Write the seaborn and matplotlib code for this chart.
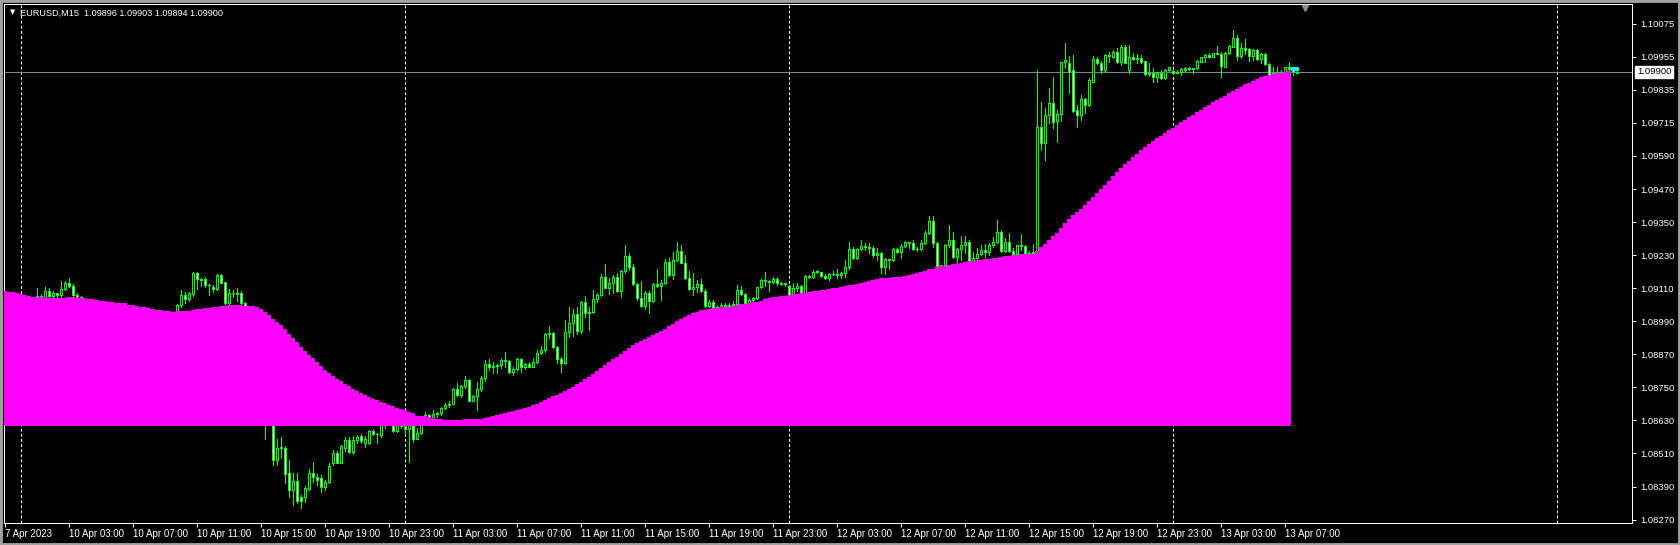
import numpy as np
import pandas as pd
import seaborn as sns
import matplotlib.pyplot as plt
import matplotlib.transforms as mtransforms
from matplotlib.patches import Rectangle

# EURUSD M15 candles, bar 0 = 7 Apr 23:00
opens = [
    1.09090, 1.09085, 1.09090, 1.09078, 1.09084, 1.09070, 1.09078, 1.09066, 1.09072, 1.09085,
    1.09080, 1.09101, 1.09085, 1.09094, 1.09086, 1.09108, 1.09130, 1.09122, 1.09089, 1.09079,
    1.09072, 1.09060, 1.09064, 1.09055, 1.09058, 1.09048, 1.09055, 1.09042, 1.09050, 1.09036,
    1.09045, 1.09032, 1.09040, 1.09028, 1.09035, 1.09022, 1.09030, 1.09018, 1.09025, 1.09012,
    1.09020, 1.09008, 1.09015, 1.09010, 1.09051, 1.09088, 1.09072, 1.09090, 1.09166, 1.09145,
    1.09145, 1.09124, 1.09118, 1.09111, 1.09160, 1.09134, 1.09057, 1.09096, 1.09094, 1.09094,
    1.09060, 1.09033, 1.09020, 1.09012, 1.08995, 1.08940, 1.08700, 1.08680, 1.08487, 1.08530,
    1.08530, 1.08438, 1.08378, 1.08411, 1.08351, 1.08351, 1.08381, 1.08438, 1.08424, 1.08420,
    1.08390, 1.08408, 1.08477, 1.08511, 1.08477, 1.08530, 1.08560, 1.08517, 1.08560, 1.08574,
    1.08548, 1.08548, 1.08593, 1.08580, 1.08578, 1.08618, 1.08630, 1.08640, 1.08594, 1.08620,
    1.08610, 1.08600, 1.08615, 1.08562, 1.08586, 1.08639, 1.08651, 1.08641, 1.08654, 1.08657,
    1.08677, 1.08687, 1.08691, 1.08744, 1.08724, 1.08756, 1.08778, 1.08703, 1.08720, 1.08744,
    1.08784, 1.08836, 1.08827, 1.08829, 1.08832, 1.08851, 1.08849, 1.08809, 1.08817, 1.08855,
    1.08827, 1.08836, 1.08827, 1.08842, 1.08875, 1.08887, 1.08946, 1.08948, 1.08897, 1.08853,
    1.08841, 1.08952, 1.08984, 1.09018, 1.08958, 1.09063, 1.09021, 1.09024, 1.09073, 1.09086,
    1.09152, 1.09114, 1.09130, 1.09153, 1.09103, 1.09176, 1.09230, 1.09188, 1.09126, 1.09075,
    1.09049, 1.09094, 1.09067, 1.09128, 1.09120, 1.09130, 1.09209, 1.09160, 1.09215, 1.09248,
    1.09205, 1.09148, 1.09111, 1.09115, 1.09128, 1.09103, 1.09049, 1.09062, 1.09039, 1.09045,
    1.09051, 1.09048, 1.09051, 1.09055, 1.09106, 1.09091, 1.09057, 1.09069, 1.09075, 1.09115,
    1.09142, 1.09140, 1.09136, 1.09145, 1.09130, 1.09128, 1.09122, 1.09088, 1.09112, 1.09122,
    1.09094, 1.09157, 1.09154, 1.09171, 1.09170, 1.09158, 1.09150, 1.09164, 1.09163, 1.09162,
    1.09166, 1.09188, 1.09254, 1.09221, 1.09255, 1.09267, 1.09264, 1.09258, 1.09233, 1.09242,
    1.09191, 1.09217, 1.09215, 1.09254, 1.09243, 1.09266, 1.09279, 1.09277, 1.09255, 1.09256,
    1.09276, 1.09314, 1.09357, 1.09278, 1.09194, 1.09196, 1.09270, 1.09288, 1.09225, 1.09254,
    1.09268, 1.09282, 1.09213, 1.09223, 1.09238, 1.09250, 1.09244, 1.09268, 1.09280, 1.09316,
    1.09249, 1.09279, 1.09249, 1.09236, 1.09268, 1.09267, 1.09239, 1.09241, 1.09245, 1.09700,
    1.09640, 1.09743, 1.09785, 1.09722, 1.09746, 1.09937, 1.09931, 1.09907, 1.09761, 1.09743,
    1.09800, 1.09779, 1.09864, 1.09945, 1.09931, 1.09907, 1.09961, 1.09953, 1.09971, 1.09937,
    1.09992, 1.09907, 1.09955, 1.09945, 1.09949, 1.09939, 1.09891, 1.09895, 1.09882, 1.09895,
    1.09876, 1.09907, 1.09904, 1.09895, 1.09901, 1.09907, 1.09913, 1.09911, 1.09913, 1.09937,
    1.09953, 1.09961, 1.09955, 1.09967, 1.09965, 1.09919, 1.09967, 1.09992, 1.10022, 1.09959,
    1.09986, 1.09983, 1.09959, 1.09979, 1.09947, 1.09965, 1.09929, 1.09888, 1.09895, 1.09898,
    1.09898, 1.09916, 1.09905, 1.09896,
]
highs = [
    1.09098, 1.09095, 1.09094, 1.09088, 1.09088, 1.09082, 1.09080, 1.09075, 1.09112, 1.09092,
    1.09115, 1.09112, 1.09103, 1.09096, 1.09139, 1.09139, 1.09149, 1.09128, 1.09096, 1.09085,
    1.09074, 1.09068, 1.09070, 1.09062, 1.09062, 1.09060, 1.09058, 1.09055, 1.09055, 1.09050,
    1.09052, 1.09045, 1.09046, 1.09040, 1.09040, 1.09035, 1.09036, 1.09030, 1.09030, 1.09026,
    1.09025, 1.09020, 1.09022, 1.09054, 1.09106, 1.09100, 1.09100, 1.09173, 1.09170, 1.09148,
    1.09152, 1.09126, 1.09124, 1.09164, 1.09164, 1.09136, 1.09108, 1.09106, 1.09112, 1.09103,
    1.09063, 1.09042, 1.09035, 1.09025, 1.09000, 1.08955, 1.08760, 1.08690, 1.08562, 1.08572,
    1.08538, 1.08487, 1.08438, 1.08441, 1.08360, 1.08392, 1.08453, 1.08479, 1.08435, 1.08432,
    1.08414, 1.08475, 1.08523, 1.08521, 1.08540, 1.08570, 1.08572, 1.08574, 1.08578, 1.08582,
    1.08574, 1.08596, 1.08599, 1.08584, 1.08620, 1.08640, 1.08650, 1.08650, 1.08630, 1.08640,
    1.08630, 1.08640, 1.08625, 1.08602, 1.08640, 1.08663, 1.08654, 1.08669, 1.08663, 1.08681,
    1.08696, 1.08702, 1.08748, 1.08768, 1.08759, 1.08793, 1.08781, 1.08724, 1.08771, 1.08794,
    1.08851, 1.08853, 1.08845, 1.08835, 1.08857, 1.08881, 1.08851, 1.08827, 1.08859, 1.08857,
    1.08841, 1.08845, 1.08859, 1.08887, 1.08902, 1.08950, 1.08975, 1.08954, 1.08902, 1.08863,
    1.08997, 1.09043, 1.09037, 1.09045, 1.09067, 1.09084, 1.09045, 1.09106, 1.09094, 1.09164,
    1.09200, 1.09148, 1.09160, 1.09169, 1.09179, 1.09270, 1.09242, 1.09200, 1.09132, 1.09139,
    1.09103, 1.09102, 1.09130, 1.09181, 1.09142, 1.09217, 1.09223, 1.09245, 1.09279, 1.09270,
    1.09233, 1.09175, 1.09166, 1.09142, 1.09146, 1.09108, 1.09069, 1.09069, 1.09051, 1.09057,
    1.09058, 1.09058, 1.09066, 1.09124, 1.09120, 1.09094, 1.09075, 1.09082, 1.09118, 1.09147,
    1.09170, 1.09142, 1.09154, 1.09152, 1.09136, 1.09132, 1.09125, 1.09130, 1.09130, 1.09124,
    1.09160, 1.09162, 1.09179, 1.09179, 1.09173, 1.09164, 1.09166, 1.09175, 1.09181, 1.09171,
    1.09215, 1.09282, 1.09264, 1.09258, 1.09288, 1.09276, 1.09276, 1.09266, 1.09258, 1.09245,
    1.09221, 1.09219, 1.09258, 1.09258, 1.09272, 1.09284, 1.09282, 1.09288, 1.09264, 1.09288,
    1.09322, 1.09375, 1.09375, 1.09282, 1.09197, 1.09272, 1.09342, 1.09316, 1.09258, 1.09302,
    1.09302, 1.09288, 1.09243, 1.09260, 1.09270, 1.09272, 1.09276, 1.09300, 1.09361, 1.09324,
    1.09294, 1.09314, 1.09258, 1.09268, 1.09310, 1.09268, 1.09249, 1.09273, 1.09905, 1.09791,
    1.09767, 1.09840, 1.09882, 1.09761, 1.09937, 1.10004, 1.09958, 1.09961, 1.09779, 1.09816,
    1.09804, 1.09876, 1.09958, 1.09955, 1.09940, 1.09965, 1.09973, 1.09979, 1.09986, 1.09998,
    1.09998, 1.09998, 1.09967, 1.09965, 1.09961, 1.09939, 1.09931, 1.09915, 1.09898, 1.09907,
    1.09910, 1.09919, 1.09910, 1.09907, 1.09913, 1.09917, 1.09919, 1.09913, 1.09943, 1.09955,
    1.09964, 1.09967, 1.09970, 1.09994, 1.09973, 1.09973, 1.09998, 1.10052, 1.10034, 1.10004,
    1.10019, 1.09986, 1.09983, 1.09982, 1.09970, 1.09967, 1.09931, 1.09916, 1.09916, 1.09905,
    1.09916, 1.09937, 1.09913, 1.09903,
]
lows = [
    1.09080, 1.09075, 1.09072, 1.09070, 1.09065, 1.09062, 1.09060, 1.09058, 1.09060, 1.09070,
    1.09075, 1.09078, 1.09075, 1.09076, 1.09075, 1.09105, 1.09118, 1.09085, 1.09070, 1.09065,
    1.09055, 1.09050, 1.09052, 1.09045, 1.09040, 1.09042, 1.09038, 1.09035, 1.09030, 1.09030,
    1.09028, 1.09025, 1.09022, 1.09020, 1.09015, 1.09012, 1.09010, 1.09008, 1.09005, 1.09002,
    1.09000, 1.08998, 1.09000, 1.09005, 1.09045, 1.09060, 1.09065, 1.09085, 1.09108, 1.09120,
    1.09115, 1.09086, 1.09097, 1.09105, 1.09130, 1.09055, 1.09050, 1.09081, 1.09065, 1.09055,
    1.09030, 1.09015, 1.09005, 1.08990, 1.08930, 1.08563, 1.08640, 1.08469, 1.08469, 1.08493,
    1.08402, 1.08354, 1.08323, 1.08329, 1.08311, 1.08335, 1.08378, 1.08408, 1.08396, 1.08372,
    1.08378, 1.08402, 1.08469, 1.08475, 1.08475, 1.08521, 1.08511, 1.08509, 1.08550, 1.08548,
    1.08536, 1.08545, 1.08578, 1.08548, 1.08572, 1.08602, 1.08615, 1.08590, 1.08590, 1.08605,
    1.08580, 1.08481, 1.08554, 1.08562, 1.08580, 1.08633, 1.08639, 1.08639, 1.08645, 1.08651,
    1.08673, 1.08681, 1.08690, 1.08721, 1.08717, 1.08750, 1.08701, 1.08700, 1.08669, 1.08739,
    1.08776, 1.08815, 1.08802, 1.08802, 1.08821, 1.08827, 1.08802, 1.08796, 1.08815, 1.08809,
    1.08817, 1.08824, 1.08824, 1.08839, 1.08873, 1.08881, 1.08930, 1.08893, 1.08841, 1.08809,
    1.08836, 1.08936, 1.08938, 1.08946, 1.08950, 1.09009, 1.08960, 1.09021, 1.09063, 1.09084,
    1.09112, 1.09091, 1.09094, 1.09100, 1.09082, 1.09166, 1.09179, 1.09124, 1.09069, 1.09045,
    1.09035, 1.09023, 1.09063, 1.09115, 1.09069, 1.09128, 1.09157, 1.09146, 1.09213, 1.09203,
    1.09145, 1.09106, 1.09088, 1.09100, 1.09097, 1.09045, 1.09045, 1.09036, 1.09033, 1.09033,
    1.09040, 1.09042, 1.09045, 1.09051, 1.09088, 1.09055, 1.09055, 1.09055, 1.09072, 1.09112,
    1.09120, 1.09103, 1.09130, 1.09124, 1.09125, 1.09122, 1.09088, 1.09086, 1.09103, 1.09091,
    1.09092, 1.09151, 1.09148, 1.09166, 1.09154, 1.09145, 1.09142, 1.09160, 1.09148, 1.09151,
    1.09152, 1.09184, 1.09217, 1.09219, 1.09251, 1.09251, 1.09239, 1.09227, 1.09215, 1.09169,
    1.09164, 1.09184, 1.09213, 1.09239, 1.09223, 1.09261, 1.09258, 1.09251, 1.09249, 1.09251,
    1.09273, 1.09310, 1.09264, 1.09193, 1.09191, 1.09193, 1.09264, 1.09221, 1.09203, 1.09215,
    1.09239, 1.09209, 1.09209, 1.09215, 1.09233, 1.09227, 1.09233, 1.09264, 1.09276, 1.09245,
    1.09245, 1.09245, 1.09233, 1.09233, 1.09251, 1.09233, 1.09236, 1.09236, 1.09235, 1.09615,
    1.09579, 1.09713, 1.09694, 1.09646, 1.09722, 1.09913, 1.09822, 1.09755, 1.09700, 1.09725,
    1.09749, 1.09776, 1.09862, 1.09927, 1.09895, 1.09904, 1.09937, 1.09949, 1.09931, 1.09925,
    1.09931, 1.09895, 1.09943, 1.09931, 1.09931, 1.09888, 1.09886, 1.09864, 1.09864, 1.09874,
    1.09873, 1.09904, 1.09895, 1.09895, 1.09887, 1.09904, 1.09907, 1.09895, 1.09911, 1.09935,
    1.09935, 1.09949, 1.09953, 1.09965, 1.09882, 1.09919, 1.09965, 1.09992, 1.09943, 1.09949,
    1.09965, 1.09941, 1.09943, 1.09943, 1.09931, 1.09925, 1.09888, 1.09880, 1.09888, 1.09890,
    1.09895, 1.09907, 1.09888, 1.09894,
]
closes = [
    1.09085, 1.09090, 1.09078, 1.09084, 1.09070, 1.09078, 1.09066, 1.09072, 1.09085, 1.09080,
    1.09101, 1.09085, 1.09094, 1.09086, 1.09108, 1.09130, 1.09122, 1.09089, 1.09079, 1.09072,
    1.09060, 1.09064, 1.09055, 1.09058, 1.09048, 1.09055, 1.09042, 1.09050, 1.09036, 1.09045,
    1.09032, 1.09040, 1.09028, 1.09035, 1.09022, 1.09030, 1.09018, 1.09025, 1.09012, 1.09020,
    1.09008, 1.09015, 1.09010, 1.09051, 1.09088, 1.09072, 1.09094, 1.09169, 1.09145, 1.09143,
    1.09124, 1.09123, 1.09108, 1.09160, 1.09132, 1.09057, 1.09096, 1.09094, 1.09092, 1.09057,
    1.09033, 1.09020, 1.09012, 1.08995, 1.08940, 1.08700, 1.08680, 1.08487, 1.08530, 1.08536,
    1.08436, 1.08378, 1.08411, 1.08339, 1.08339, 1.08384, 1.08438, 1.08426, 1.08414, 1.08390,
    1.08406, 1.08465, 1.08511, 1.08477, 1.08538, 1.08560, 1.08517, 1.08560, 1.08572, 1.08555,
    1.08563, 1.08593, 1.08580, 1.08582, 1.08618, 1.08630, 1.08640, 1.08594, 1.08620, 1.08610,
    1.08600, 1.08615, 1.08562, 1.08586, 1.08635, 1.08651, 1.08645, 1.08654, 1.08657, 1.08677,
    1.08687, 1.08691, 1.08745, 1.08724, 1.08756, 1.08778, 1.08703, 1.08720, 1.08744, 1.08784,
    1.08836, 1.08827, 1.08829, 1.08832, 1.08851, 1.08849, 1.08809, 1.08817, 1.08855, 1.08827,
    1.08836, 1.08827, 1.08842, 1.08875, 1.08887, 1.08946, 1.08948, 1.08897, 1.08853, 1.08841,
    1.08952, 1.08984, 1.09018, 1.08958, 1.09063, 1.09021, 1.09024, 1.09073, 1.09086, 1.09152,
    1.09114, 1.09130, 1.09153, 1.09103, 1.09176, 1.09230, 1.09188, 1.09126, 1.09075, 1.09049,
    1.09094, 1.09067, 1.09128, 1.09120, 1.09130, 1.09209, 1.09160, 1.09215, 1.09248, 1.09205,
    1.09148, 1.09111, 1.09115, 1.09128, 1.09103, 1.09049, 1.09062, 1.09039, 1.09045, 1.09051,
    1.09048, 1.09051, 1.09055, 1.09106, 1.09091, 1.09057, 1.09069, 1.09075, 1.09115, 1.09142,
    1.09140, 1.09136, 1.09145, 1.09130, 1.09128, 1.09130, 1.09088, 1.09112, 1.09122, 1.09094,
    1.09157, 1.09154, 1.09171, 1.09175, 1.09158, 1.09150, 1.09164, 1.09163, 1.09162, 1.09166,
    1.09188, 1.09254, 1.09221, 1.09255, 1.09267, 1.09264, 1.09258, 1.09233, 1.09242, 1.09191,
    1.09217, 1.09215, 1.09254, 1.09243, 1.09266, 1.09279, 1.09277, 1.09255, 1.09256, 1.09276,
    1.09314, 1.09357, 1.09278, 1.09194, 1.09196, 1.09270, 1.09288, 1.09225, 1.09254, 1.09268,
    1.09282, 1.09213, 1.09223, 1.09238, 1.09250, 1.09244, 1.09268, 1.09280, 1.09316, 1.09249,
    1.09279, 1.09249, 1.09236, 1.09268, 1.09267, 1.09239, 1.09241, 1.09245, 1.09700, 1.09640,
    1.09743, 1.09785, 1.09719, 1.09746, 1.09937, 1.09943, 1.09904, 1.09759, 1.09742, 1.09800,
    1.09779, 1.09870, 1.09945, 1.09931, 1.09907, 1.09961, 1.09959, 1.09971, 1.09937, 1.09992,
    1.09933, 1.09955, 1.09945, 1.09952, 1.09937, 1.09891, 1.09897, 1.09882, 1.09895, 1.09876,
    1.09907, 1.09917, 1.09895, 1.09901, 1.09910, 1.09913, 1.09911, 1.09913, 1.09939, 1.09953,
    1.09961, 1.09955, 1.09967, 1.09965, 1.09923, 1.09970, 1.09994, 1.10022, 1.09959, 1.09986,
    1.09979, 1.09959, 1.09979, 1.09947, 1.09965, 1.09929, 1.09888, 1.09895, 1.09898, 1.09896,
    1.09916, 1.09910, 1.09898, 1.09900,
]

# magenta indicator: top of each histogram bar (bars 0..321), drawn down to a fixed base
ma_top = [
    1.09102, 1.09099, 1.09099, 1.09095, 1.09091, 1.09088, 1.09084, 1.09080, 1.09080, 1.09080,
    1.09079, 1.09078, 1.09078, 1.09077, 1.09077, 1.09078, 1.09080, 1.09080, 1.09079, 1.09076,
    1.09076, 1.09073, 1.09073, 1.09069, 1.09066, 1.09066, 1.09062, 1.09062, 1.09059, 1.09059,
    1.09057, 1.09051, 1.09051, 1.09048, 1.09044, 1.09044, 1.09040, 1.09037, 1.09033, 1.09033,
    1.09029, 1.09029, 1.09026, 1.09029, 1.09029, 1.09029, 1.09029, 1.09033, 1.09037, 1.09037,
    1.09040, 1.09040, 1.09044, 1.09044, 1.09048, 1.09048, 1.09051, 1.09051, 1.09051, 1.09051,
    1.09048, 1.09048, 1.09048, 1.09044, 1.09037, 1.09026, 1.09015, 1.09000, 1.08989, 1.08978,
    1.08964, 1.08946, 1.08931, 1.08917, 1.08898, 1.08884, 1.08869, 1.08858, 1.08844, 1.08829,
    1.08815, 1.08804, 1.08793, 1.08782, 1.08775, 1.08764, 1.08756, 1.08745, 1.08738, 1.08731,
    1.08724, 1.08716, 1.08709, 1.08705, 1.08698, 1.08695, 1.08687, 1.08684, 1.08676, 1.08673,
    1.08669, 1.08663, 1.08658, 1.08648, 1.08647, 1.08647, 1.08643, 1.08640, 1.08636, 1.08636,
    1.08633, 1.08633, 1.08633, 1.08633, 1.08633, 1.08636, 1.08636, 1.08636, 1.08636, 1.08636,
    1.08640, 1.08645, 1.08648, 1.08651, 1.08654, 1.08658, 1.08662, 1.08665, 1.08669, 1.08673,
    1.08676, 1.08680, 1.08687, 1.08691, 1.08698, 1.08705, 1.08713, 1.08720, 1.08724, 1.08731,
    1.08738, 1.08745, 1.08753, 1.08764, 1.08771, 1.08782, 1.08789, 1.08800, 1.08811, 1.08822,
    1.08833, 1.08844, 1.08855, 1.08862, 1.08873, 1.08884, 1.08895, 1.08906, 1.08913, 1.08920,
    1.08927, 1.08935, 1.08942, 1.08949, 1.08957, 1.08964, 1.08975, 1.08982, 1.08993, 1.09000,
    1.09008, 1.09015, 1.09022, 1.09026, 1.09033, 1.09033, 1.09037, 1.09040, 1.09040, 1.09044,
    1.09044, 1.09044, 1.09048, 1.09051, 1.09055, 1.09056, 1.09059, 1.09061, 1.09063, 1.09067,
    1.09072, 1.09076, 1.09079, 1.09081, 1.09084, 1.09084, 1.09088, 1.09090, 1.09091, 1.09094,
    1.09096, 1.09099, 1.09101, 1.09102, 1.09105, 1.09106, 1.09110, 1.09112, 1.09113, 1.09116,
    1.09119, 1.09123, 1.09125, 1.09128, 1.09130, 1.09134, 1.09138, 1.09142, 1.09146, 1.09148,
    1.09150, 1.09151, 1.09152, 1.09152, 1.09153, 1.09157, 1.09160, 1.09164, 1.09167, 1.09170,
    1.09176, 1.09181, 1.09183, 1.09188, 1.09192, 1.09193, 1.09197, 1.09199, 1.09202, 1.09204,
    1.09208, 1.09210, 1.09213, 1.09215, 1.09215, 1.09218, 1.09219, 1.09221, 1.09223, 1.09226,
    1.09230, 1.09231, 1.09233, 1.09234, 1.09236, 1.09236, 1.09237, 1.09237, 1.09249, 1.09262,
    1.09272, 1.09287, 1.09301, 1.09313, 1.09332, 1.09350, 1.09364, 1.09379, 1.09390, 1.09401,
    1.09415, 1.09430, 1.09444, 1.09459, 1.09474, 1.09488, 1.09503, 1.09521, 1.09535, 1.09550,
    1.09565, 1.09575, 1.09590, 1.09601, 1.09616, 1.09626, 1.09637, 1.09648, 1.09659, 1.09666,
    1.09677, 1.09688, 1.09696, 1.09707, 1.09717, 1.09725, 1.09736, 1.09743, 1.09754, 1.09761,
    1.09772, 1.09779, 1.09790, 1.09798, 1.09805, 1.09812, 1.09823, 1.09830, 1.09838, 1.09845,
    1.09856, 1.09859, 1.09867, 1.09874, 1.09881, 1.09885, 1.09889, 1.09892, 1.09896, 1.09896,
    1.09899, 1.09903,
]
hist_base = 1.08612

# small cyan block on the two newest bars
cyan_bars = [322, 323]
cyan_low, cyan_high = 1.09903, 1.09918

bid_price = 1.09900
header = "EURUSD,M15  1.09896 1.09903 1.09894 1.09900"

time_labels = ['7 Apr 2023', '10 Apr 03:00', '10 Apr 07:00', '10 Apr 11:00', '10 Apr 15:00',
               '10 Apr 19:00', '10 Apr 23:00', '11 Apr 03:00', '11 Apr 07:00', '11 Apr 11:00',
               '11 Apr 15:00', '11 Apr 19:00', '11 Apr 23:00', '12 Apr 03:00', '12 Apr 07:00',
               '12 Apr 11:00', '12 Apr 15:00', '12 Apr 19:00', '12 Apr 23:00', '13 Apr 03:00',
               '13 Apr 07:00']
label_bars = list(range(0, 321, 16))
day_start_bars = [4, 100, 196, 292, 388]
shift_bar = 325

price_ticks = [1.08270, 1.08390, 1.08511, 1.08631, 1.08751, 1.08872, 1.08992, 1.09112,
               1.09233, 1.09353, 1.09473, 1.09594, 1.09714, 1.09834, 1.09955, 1.10075]
price_labels = ['1.08270', '1.08390', '1.08510', '1.08630', '1.08750', '1.08870', '1.08990',
                '1.09110', '1.09230', '1.09350', '1.09470', '1.09590', '1.09715', '1.09835',
                '1.09955', '1.10075']

# ---- style
sns.set_style("dark", rc={"axes.facecolor": "black", "figure.facecolor": "black",
                          "axes.edgecolor": "white", "axes.grid": False})
plt.rcParams['font.family'] = ['Liberation Sans', 'DejaVu Sans']

W, H = 1680, 545
fig = plt.figure(figsize=(W / 100, H / 100), dpi=100, facecolor='black')
ax = fig.add_axes([4 / W, 22 / H, (1632 - 4) / W, (523 - 4.3) / H])
ax.set_facecolor('black')

lime = '#00ff00'
px = 0.72  # one pixel in points

# day separators and bid line
for b in day_start_bars:
    ax.axvline(b, color='white', lw=px, linestyle=(0, (2.9, 2.2)), zorder=1)
ax.axhline(bid_price, color='#778899', lw=px, zorder=2)

# candles
bar_idx = np.arange(len(closes))
o = np.array(opens)
c = np.array(closes)
ax.vlines(bar_idx, lows, highs, color=lime, lw=px, zorder=3, antialiased=False)
body_low = np.minimum(o, c)
body_h = np.maximum(np.abs(c - o), 1e-7)
faces = np.where(c >= o, 'black', 'white')
ax.bar(bar_idx, body_h, bottom=body_low, width=0.5, color=faces, edgecolor=lime,
       linewidth=px, zorder=3.5, antialiased=False)

# magenta histogram (seaborn bars on a native numeric axis)
hist_df = pd.DataFrame({"bar": np.arange(len(ma_top)),
                        "height": np.array(ma_top) - hist_base})
sns.barplot(data=hist_df, x="bar", y="height", native_scale=True, width=1.0,
            color='#ff00ff', saturation=1, errorbar=None, bottom=hist_base,
            linewidth=0, antialiased=False, zorder=4, ax=ax)

ax.bar(cyan_bars, cyan_high - cyan_low, bottom=cyan_low, width=1.0, color='#00ffff',
       linewidth=0, zorder=5, antialiased=False)

ax.set_xlabel('')
ax.set_ylabel('')
ax.set_xlim(-0.35, 406.65)
ax.set_ylim(1.082576, 1.101458)

# axes and ticks
for s in ax.spines.values():
    s.set_color('white')
    s.set_linewidth(px)
ax.set_xticks(label_bars)
ax.set_xticklabels(time_labels)
ax.set_yticks(price_ticks)
ax.set_yticklabels(price_labels)
ax.tick_params(axis='x', bottom=True, top=False, direction='out', length=3, width=px,
               color='white', labelcolor='white', labelsize=7, pad=1.5)
ax.tick_params(axis='y', left=False, right=True, labelleft=False, labelright=True,
               direction='out', length=3, width=px, color='white', labelcolor='white',
               labelsize=6.8, pad=3)
for lbl in ax.get_xticklabels():
    lbl.set_horizontalalignment('left')

# chart shift marker
trans = mtransforms.blended_transform_factory(ax.transData, ax.transAxes)
ax.plot([shift_bar], [0.993], marker='v', ms=4.5, color='#8c8c8c', mec='#8c8c8c',
        transform=trans, clip_on=False, zorder=6)

# header, bid label, window frame
fig.text(12.5 / W, 1 - 12.5 / H, '\u25bc', color='white', fontsize=5,
         family=['DejaVu Sans'], ha='center', va='center')
fig.text(20.5 / W, 1 - 13 / H, header, color='white', fontsize=6.6, ha='left', va='center')
fig.text(1654 / W, 1 - 71.9 / H, f'{bid_price:.5f}', color='black', fontsize=6.8,
         ha='center', va='center',
         bbox=dict(boxstyle='square,pad=0.18', fc='white', ec='white'))
fig.patches.append(Rectangle((0, 0), 1, 1, transform=fig.transFigure, fill=False,
                             ec='#a0a0a0', lw=3.5))

fig.savefig('out.png', dpi=100, facecolor='black')
